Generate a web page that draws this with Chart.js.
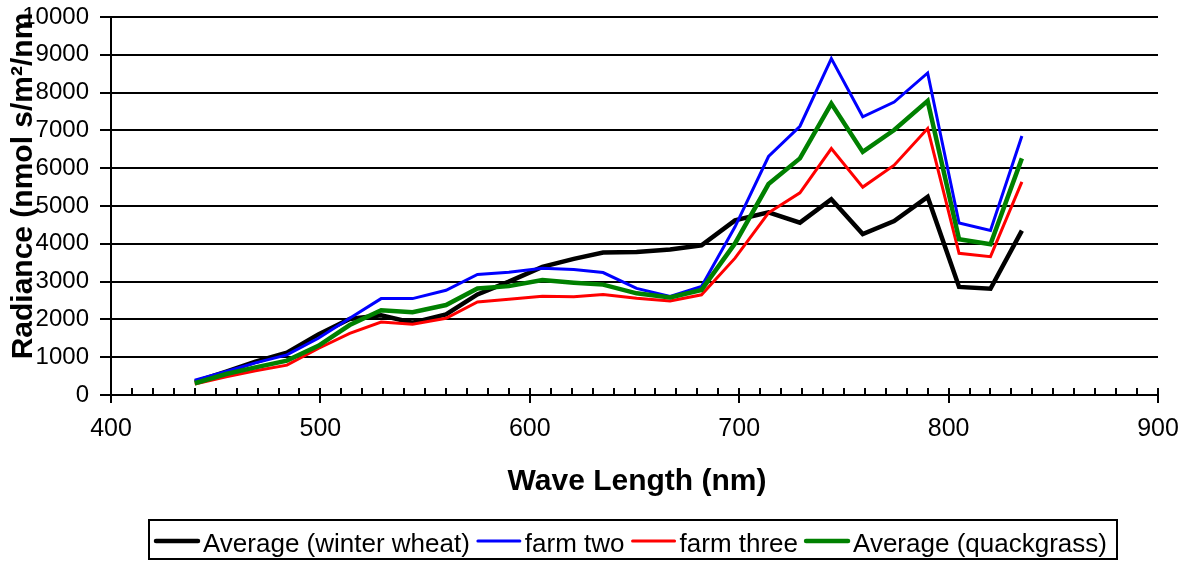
<!DOCTYPE html>
<html><head><meta charset="utf-8">
<script src="https://cdn.jsdelivr.net/npm/chart.js@4.4.0/dist/chart.umd.min.js"></script>
<style>html,body{margin:0;padding:0;background:#fff;} #wrap{width:1191px;height:561px;position:relative;}</style>
</head><body><div id="wrap"><canvas id="c"></canvas></div>
<script>
const wavelengths = [440,455,469,484,499,514,529,544,560,575,590,606,621,635,651,667,682,698,714,729,744,759,774,790,805,820,835];
const winterWheat = [350,620,880,1120,1600,2010,2110,1910,2130,2660,3000,3390,3600,3770,3780,3850,3960,4620,4830,4560,5180,4260,4600,5240,2860,2810,4350];
const farmTwo     = [390,620,850,1060,1500,2030,2550,2550,2770,3190,3250,3350,3320,3240,2820,2610,2870,4450,6310,7110,8900,7360,7750,8520,4550,4350,6850];
const farmThree   = [290,480,640,790,1230,1630,1930,1870,2030,2460,2530,2610,2600,2660,2560,2490,2650,3620,4820,5350,6520,5500,6080,7050,3750,3660,5640];
const quackgrass  = [310,555,730,910,1300,1850,2240,2190,2380,2820,2880,3040,2970,2920,2690,2580,2780,4010,5580,6260,7710,6430,7010,7780,4120,3990,6260];
const seriesNames = ['Average (winter wheat)','farm two','farm three','Average (quackgrass)'];
const seriesColors = ['#000000','#0000ff','#ff0000','#008000'];
const seriesWidths = [4.5,3,3,4.5];
const yTickValues = [0,1000,2000,3000,4000,5000,6000,7000,8000,9000,10000];
const xTickValues = [400,500,600,700,800,900];
const xTitle = 'Wave Length (nm)';
const yTitle = 'Radiance (nmol s/m\u00b2/nm';

const FONT = "'Liberation Sans', Arial, sans-serif";
const allSeries = [winterWheat, farmTwo, farmThree, quackgrass];
const datasets = allSeries.map((vals, i) => ({
  label: seriesNames[i],
  data: wavelengths.map((w, j) => ({x: w, y: vals[j]})),
  borderColor: seriesColors[i],
  backgroundColor: seriesColors[i],
  borderWidth: seriesWidths[i],
  pointRadius: 0,
  tension: 0,
  fill: false,
  order: 4 - i
}));

const extras = {
  id: 'extras',
  afterDatasetsDraw(chart) {
    const ctx = chart.ctx;
    const xs = chart.scales.x;
    const ca = chart.chartArea;
    ctx.save();
    ctx.strokeStyle = '#000';
    ctx.lineWidth = 2;
    for (let v = 400; v <= 900; v += 10) {
      const px = Math.round(xs.getPixelForValue(v));
      ctx.beginPath();
      ctx.moveTo(px, ca.bottom);
      ctx.lineTo(px, ca.bottom - 7);
      ctx.stroke();
    }
    ctx.restore();
  },
  afterDraw(chart) {
    const ctx = chart.ctx;
    ctx.save();
    ctx.fillStyle = '#000';
    ctx.font = 'bold 30px ' + FONT;
    ctx.textAlign = 'center';
    ctx.textBaseline = 'middle';
    ctx.fillText(xTitle, 637, 482);
    ctx.save();
    ctx.translate(24, 186);
    ctx.rotate(-Math.PI / 2);
    ctx.fillText(yTitle, 0, 0);
    ctx.restore();
    // legend
    ctx.lineWidth = 2;
    ctx.strokeStyle = '#000';
    ctx.strokeRect(149, 520, 968, 39);
    ctx.font = '26px ' + FONT;
    ctx.textAlign = 'left';
    let x = 156;
    const ly = 541, ty = 545;
    chart.data.datasets.forEach((ds) => {
      ctx.strokeStyle = ds.borderColor;
      ctx.lineWidth = ds.borderWidth;
      ctx.lineCap = 'round';
      ctx.beginPath();
      ctx.moveTo(x, ly);
      ctx.lineTo(x + 42, ly);
      ctx.stroke();
      ctx.fillStyle = '#000';
      ctx.fillText(ds.label, x + 47, ty);
      x += 47 + ctx.measureText(ds.label).width + 8;
    });
    ctx.restore();
  }
};

new Chart(document.getElementById('c'), {
  type: 'line',
  data: { datasets },
  options: {
    responsive: true,
    maintainAspectRatio: false,
    animation: false,
    layout: { padding: { left: 0, right: 33, top: 17, bottom: 0 } },
    plugins: { legend: { display: false }, tooltip: { enabled: false } },
    scales: {
      x: {
        type: 'linear', min: 400, max: 900,
        afterBuildTicks: (s) => { s.ticks = xTickValues.map(v => ({value: v})); },
        afterFit: (s) => { s.height = 166; s.paddingLeft = 0; s.paddingRight = 0; },
        ticks: { color: '#000', font: { family: FONT, size: 25 }, padding: 11, maxRotation: 0, callback: (v) => String(v) },
        grid: { drawOnChartArea: false, color: '#000', lineWidth: 2, tickLength: 8 },
        border: { color: '#000', width: 2 }
      },
      y: {
        type: 'linear', min: 0, max: 10000,
        afterBuildTicks: (s) => { s.ticks = yTickValues.map(v => ({value: v})); },
        afterFit: (s) => { s.width = 111; s.paddingTop = 0; s.paddingBottom = 0; },
        ticks: { color: '#000', font: { family: FONT, size: 24 }, padding: 11, callback: (v) => String(v) },
        grid: { color: '#000', lineWidth: 2, tickLength: 11 },
        border: { color: '#000', width: 2 }
      }
    }
  },
  plugins: [extras]
});
</script></body></html>
